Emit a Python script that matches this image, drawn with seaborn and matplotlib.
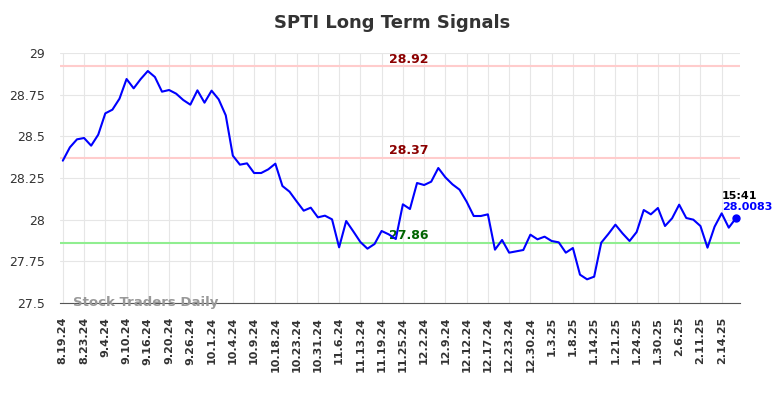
import numpy as np
import pandas as pd
import seaborn as sns
import matplotlib
matplotlib.use("Agg")
import matplotlib.pyplot as plt

# 数据
prices = [28.354, 28.434, 28.482, 28.49, 28.444, 28.51, 28.638, 28.66, 28.726, 28.844,
          28.788, 28.844, 28.892, 28.856, 28.768, 28.778, 28.756, 28.718, 28.69, 28.776,
          28.702, 28.774, 28.722, 28.626, 28.384, 28.33, 28.338, 28.28, 28.28, 28.302,
          28.336, 28.202, 28.168, 28.11, 28.054, 28.072, 28.014, 28.024, 28.002, 27.834,
          27.992, 27.93, 27.866, 27.826, 27.854, 27.932, 27.912, 27.884, 28.092, 28.064,
          28.22, 28.208, 28.228, 28.31, 28.254, 28.212, 28.18, 28.108, 28.022, 28.022,
          28.032, 27.82, 27.878, 27.802, 27.81, 27.818, 27.91, 27.882, 27.898, 27.872,
          27.864, 27.802, 27.83, 27.67, 27.642, 27.658, 27.862, 27.914, 27.97, 27.918,
          27.872, 27.926, 28.058, 28.032, 28.07, 27.962, 28.008, 28.09, 28.01, 28.0,
          27.962, 27.832, 27.958, 28.038, 27.952, 28.0083]
tick_labels = ['8.19.24', '8.23.24', '9.4.24', '9.10.24', '9.16.24', '9.20.24', '9.26.24',
               '10.1.24', '10.4.24', '10.9.24', '10.18.24', '10.23.24', '10.31.24', '11.6.24',
               '11.13.24', '11.19.24', '11.25.24', '12.2.24', '12.9.24', '12.12.24', '12.17.24',
               '12.23.24', '12.30.24', '1.3.25', '1.8.25', '1.14.25', '1.21.25', '1.24.25',
               '1.30.25', '2.6.25', '2.11.25', '2.14.25']
upper_lines = [28.92, 28.37]
lower_line = 27.86
last_time = '15:41'

df = pd.DataFrame({'idx': np.arange(len(prices)), 'price': prices})

sns.set_style("whitegrid", {'grid.color': '#e6e6e6', 'axes.edgecolor': '#555555'})
plt.rcParams['font.family'] = ['DejaVu Sans']

fig = plt.figure(figsize=(7.84, 3.98), dpi=100)
ax = fig.add_axes([0.0765, 0.2387, 0.8675, 0.6281])

for v in upper_lines:
    ax.axhline(v, color='#ffcccc', lw=1.5, zorder=1)
    ax.text(48.9, v + 0.005, '%.2f' % v, color='#8b0000', fontsize=9, fontweight='bold',
            ha='center', va='bottom')
ax.axhline(lower_line, color='#90ee90', lw=1.5, zorder=1)
ax.text(48.9, lower_line + 0.005, '%.2f' % lower_line, color='#006400', fontsize=9,
        fontweight='bold', ha='center', va='bottom')

sns.lineplot(data=df, x='idx', y='price', color='#0000ff', lw=1.5, ax=ax, zorder=3)
last = len(prices) - 1
ax.plot(last, prices[-1], 'o', color='#0000ff', ms=5, zorder=4)
ax.text(last - 2, prices[-1] + 0.105, last_time, color='black', fontsize=8,
        fontweight='bold', ha='left', va='bottom')
ax.text(last - 2, prices[-1] + 0.035, '%.4f' % prices[-1], color='#0000ff', fontsize=8,
        fontweight='bold', ha='left', va='bottom')

ax.text(1.5, 27.5, 'Stock Traders Daily', color='#999999', fontsize=9.5,
        fontweight='bold', ha='left', va='center', zorder=5)

ax.set_xlim(-0.4, 95.6)
ax.set_ylim(27.5, 29)
ax.set_yticks([27.5, 27.75, 28, 28.25, 28.5, 28.75, 29])
ax.set_yticklabels(['27.5', '27.75', '28', '28.25', '28.5', '28.75', '29'])
ax.set_xticks(np.arange(0, len(prices), 3))
ax.set_xticklabels(tick_labels, rotation=90, fontsize=8, fontweight='bold', color='#333333')
ax.tick_params(axis='y', labelsize=9, colors='#333333', length=0, pad=11)
ax.tick_params(axis='x', length=0, pad=10)
ax.set_xlabel('')
ax.set_ylabel('')
for s in ['left', 'right', 'top']:
    ax.spines[s].set_visible(False)
ax.spines['bottom'].set_color('#555555')

fig.suptitle('SPTI Long Term Signals', fontsize=13, fontweight='bold', color='#333333', y=0.965)
fig.savefig('out.png', dpi=100)
